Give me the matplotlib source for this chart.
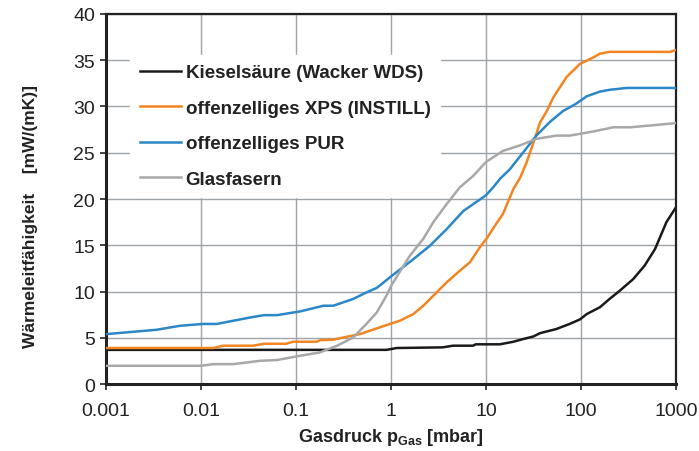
import numpy as np
import matplotlib
matplotlib.use("Agg")
from matplotlib import pyplot as plt

# pressure in mbar (log scale), values in mW/(mK)
p_kiesel = [0.001, 0.01, 0.1, 0.9, 1.15, 3.5, 4.5, 7.3, 7.8, 14, 19.5, 24.5, 31.6, 37, 55, 76, 98, 115, 158, 200, 257, 355, 468, 603, 794, 1000]
k_kiesel = [3.7, 3.7, 3.7, 3.7, 3.9, 3.97, 4.15, 4.15, 4.3, 4.3, 4.58, 4.86, 5.15, 5.5, 5.95, 6.5, 7.0, 7.57, 8.3, 9.2, 10.1, 11.35, 12.8, 14.6, 17.5, 19.1]

p_xps = [0.001, 0.0135, 0.017, 0.035, 0.046, 0.079, 0.093, 0.166, 0.179, 0.247, 0.316, 0.47, 0.6, 0.9, 1.24, 1.72, 2.19, 2.79, 3.86, 5.3, 6.76, 8.65, 10.2, 12.4, 15.1, 19.5, 22.9, 26.9, 31.6, 37.2, 43.7, 51.3, 70.8, 97.7, 135, 158, 200, 870, 1000]
k_xps = [3.9, 3.9, 4.15, 4.15, 4.36, 4.36, 4.58, 4.58, 4.75, 4.8, 5.04, 5.4, 5.77, 6.38, 6.85, 7.57, 8.47, 9.55, 11.0, 12.25, 13.15, 14.8, 15.75, 17.1, 18.4, 21.1, 22.3, 24.0, 26.1, 28.3, 29.5, 31.0, 33.2, 34.6, 35.3, 35.7, 35.9, 35.9, 36.1]

p_pur = [0.001, 0.0034, 0.006, 0.0105, 0.0146, 0.033, 0.046, 0.063, 0.11, 0.195, 0.247, 0.4, 0.55, 0.71, 1.02, 1.72, 2.57, 3.86, 5.77, 10.0, 12.0, 14.1, 17.8, 24.5, 33.9, 46.8, 64.6, 89.1, 115, 158, 200, 302, 1000]
k_pur = [5.4, 5.87, 6.3, 6.5, 6.5, 7.2, 7.45, 7.45, 7.85, 8.47, 8.47, 9.2, 9.9, 10.4, 11.7, 13.5, 14.95, 16.75, 18.7, 20.4, 21.3, 22.2, 23.2, 25.0, 26.85, 28.3, 29.5, 30.3, 31.1, 31.6, 31.8, 32.0, 32.0]

p_glas = [0.001, 0.01, 0.0135, 0.022, 0.042, 0.063, 0.11, 0.178, 0.27, 0.4, 0.55, 0.71, 0.9, 1.0, 1.58, 2.19, 2.79, 3.86, 5.3, 7.35, 10.0, 15.1, 22.9, 33.9, 55, 76, 135, 219, 331, 1000]
k_glas = [1.98, 1.98, 2.16, 2.16, 2.52, 2.6, 3.06, 3.42, 4.14, 5.04, 6.49, 7.75, 9.6, 10.6, 13.87, 15.7, 17.5, 19.46, 21.26, 22.5, 24.0, 25.2, 25.8, 26.5, 26.85, 26.85, 27.3, 27.75, 27.75, 28.2]

labels = ["Kieselsäure (Wacker WDS)", "offenzelliges XPS (INSTILL)",
          "offenzelliges PUR", "Glasfasern"]
colors = ["#1a1a1a", "#f28522", "#2a87c8", "#a8a8a8"]

xticks = [0.001, 0.01, 0.1, 1, 10, 100, 1000]
xticklabels = ["0.001", "0.01", "0.1", "1", "10", "100", "1000"]
yticks = list(range(0, 41, 5))

plt.rcParams["font.family"] = ["Liberation Sans", "DejaVu Sans"]

fig = plt.figure(figsize=(6.99, 4.52), dpi=100)
ax = fig.add_axes([0.1517, 0.148, 0.8153, 0.819])

for p, k, lab, c in zip([p_kiesel, p_xps, p_pur, p_glas],
                        [k_kiesel, k_xps, k_pur, k_glas], labels, colors):
    ax.plot(p, k, color=c, lw=1.8, label=lab, zorder=3)

ax.set_xscale("log")
ax.set_xlim(0.001, 1000)
ax.set_ylim(0, 40)
ax.set_xticks(xticks)
ax.set_xticklabels(xticklabels)
ax.minorticks_off()
ax.set_yticks(yticks)
ax.tick_params(labelsize=14, length=4, width=1.2, color="#222222", labelcolor="#222222", pad=4)
ax.tick_params(axis="x", pad=9)
ax.grid(True, color="#9ea3a8", lw=1.0, zorder=0)
ax.set_axisbelow(True)

for side in ["left", "bottom"]:
    ax.spines[side].set_linewidth(2.2)
for side in ["top", "right"]:
    ax.spines[side].set_linewidth(1.6)
for s in ax.spines.values():
    s.set_color("#222222")

ax.set_xlabel("Gasdruck p$_{\\mathregular{Gas}}$ [mbar]", fontsize=13, fontweight="bold",
              labelpad=5, color="#222222")
ax.set_ylabel("Wärmeleitfähigkeit    [mW/(mK)]", fontsize=12.5, fontweight="bold",
              color="#222222")
ax.yaxis.set_label_coords(-0.12, 0.455)

leg = ax.legend(loc="upper left", bbox_to_anchor=(0.026, 0.915), frameon=True,
                fancybox=False, edgecolor="white", facecolor="white", framealpha=1,
                handlelength=2.2, handletextpad=0.25, labelspacing=0.98,
                prop={"size": 13.5, "weight": "bold"}, borderpad=0.5)
for t in leg.get_texts():
    t.set_color("#222222")

fig.savefig("out.png", dpi=100)
